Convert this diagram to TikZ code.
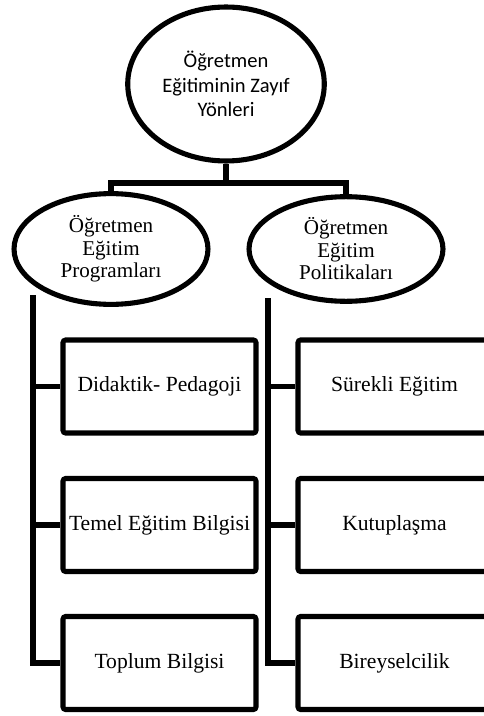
\documentclass[tikz,border=0pt]{standalone}
\usepackage{fontspec}
\setmainfont{Liberation Serif}
\newfontfamily\calibrifont{Carlito}
\usetikzlibrary{shapes.geometric}
\tikzstyle{conn} = [line width=2.9pt]
\tikzstyle{topnode} = [ellipse, draw=black, line width=2.9pt, minimum width=3.88cm,
minimum height=3.08cm, align=center, font=\calibrifont\fontsize{11.7}{13.8}\selectfont]
\tikzstyle{subnode} = [ellipse, draw=black, line width=2.9pt, minimum width=3.88cm,
minimum height=1.88cm, align=center, font=\fontsize{12}{12.8}\selectfont]
\tikzstyle{itembox} = [rectangle, rounded corners=1.5pt, draw=black, line width=2.9pt,
minimum width=3.86cm, minimum height=1.86cm, text centered, font=\fontsize{12.3}{13}\selectfont]

\begin{document}
\begin{tikzpicture}[x=0.02cm, y=-0.02cm]
  \useasboundingbox (0,0) rectangle (483,716);
  \node [topnode] (weak) at (226,84) {Öğretmen\\Eğitiminin Zayıf\\Yönleri};
  \node [subnode] (prog) at (111,249) {Öğretmen\\Eğitim\\Programları};
  \node [subnode] (pol) at (346,249) {Öğretmen\\Eğitim\\Politikaları};
  \coordinate (split) at (226,183);
  \draw [conn] (weak.south) -- (split) -| (prog.north);
  \draw [conn] (split) -| (pol.north);

  \node [itembox] (didak) at (159.5,386.5) {Didaktik- Pedagoji};
  \node [itembox] (temel) at (159.5,525) {Temel Eğitim Bilgisi};
  \node [itembox] (toplum) at (159.5,663) {Toplum Bilgisi};
  \node [itembox] (surekli) at (394.5,386.5) {Sürekli Eğitim};
  \node [itembox] (kutup) at (394.5,525) {Kutuplaşma};
  \node [itembox] (birey) at (394.5,663) {Bireyselcilik};

  \coordinate (progline) at (33,295);
  \coordinate (polline) at (268,298);
  \draw [conn] (progline) |- (toplum.west);
  \draw [conn] (progline |- didak.west) -- (didak.west);
  \draw [conn] (progline |- temel.west) -- (temel.west);
  \draw [conn] (polline) |- (birey.west);
  \draw [conn] (polline |- surekli.west) -- (surekli.west);
  \draw [conn] (polline |- kutup.west) -- (kutup.west);
\end{tikzpicture}
\end{document}
